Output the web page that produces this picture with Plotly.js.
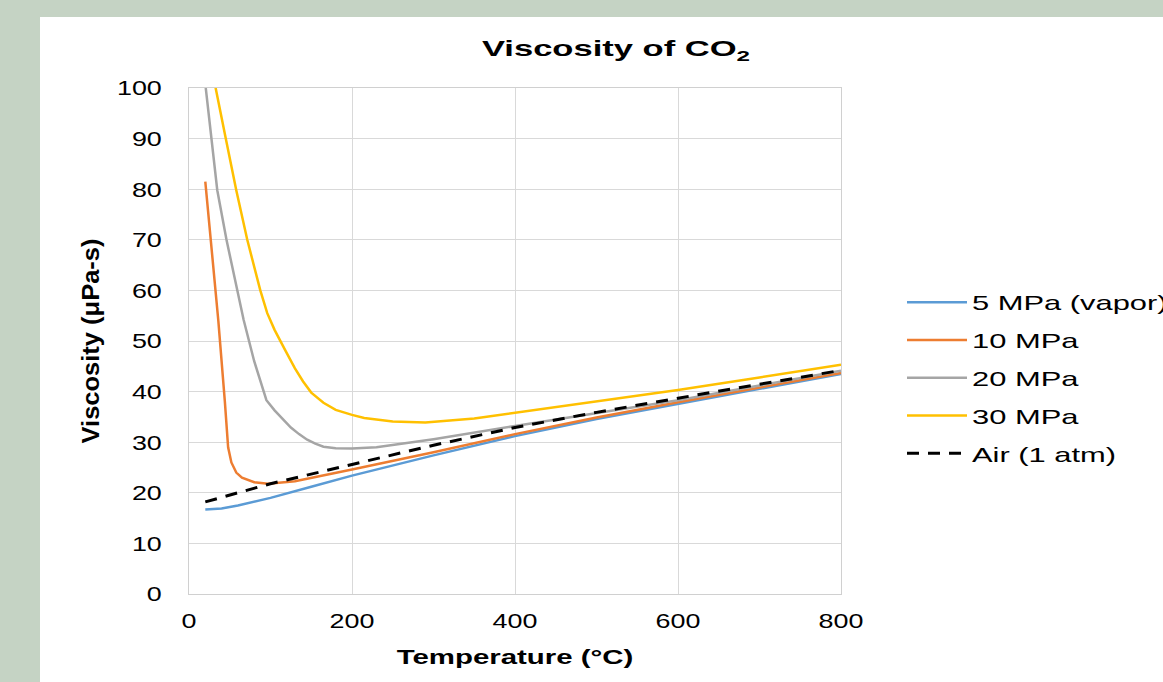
<!DOCTYPE html>
<html>
<head>
<meta charset="utf-8">
<script src="https://cdn.plot.ly/plotly-3.0.1.min.js"></script>
<style>
html,body{margin:0;padding:0;width:1163px;height:682px;overflow:hidden;background:#c5d3c4;}
#card{position:absolute;left:40px;top:17px;width:1123px;height:665px;background:#ffffff;}
#chart{position:absolute;left:0;top:0;width:1163px;height:682px;}
</style>
</head>
<body>
<div id="card"></div>
<div id="chart"></div>
<script>
// Temperature (°C) and viscosity (µPa-s) values
const t5 = [20, 40, 60, 100, 150, 200, 300, 400, 500, 600, 700, 800];
const v5 = [16.7, 16.9, 17.5, 19.0, 21.2, 23.4, 27.4, 31.2, 34.6, 37.6, 40.6, 43.5];

const t10 = [20, 27, 36, 44, 48, 52, 58, 65, 80, 97, 130, 200, 300, 400, 500, 600, 700, 800];
const v10 = [81.5, 70, 54, 38, 29, 26, 24, 23, 22.1, 21.8, 22.3, 24.6, 28.0, 31.6, 34.9, 37.9, 40.8, 43.7];

const t20 = [20, 27.6, 34.7, 46, 60, 67, 80, 95, 105, 115, 125, 135, 145, 155, 165, 180, 200, 230, 300, 400, 500, 600, 700, 800];
const v20 = [100.8, 89.7, 79.8, 70, 59.5, 54.2, 46, 38.3, 36.3, 34.5, 32.9, 31.6, 30.5, 29.7, 29.1, 28.8, 28.75, 29.0, 30.6, 33.2, 35.8, 38.3, 41.2, 44.1];

const t30 = [20, 32.7, 45.5, 58, 71.5, 87.5, 96, 105, 118, 130, 140, 150, 165, 180, 200, 215, 250, 290, 350, 400, 500, 600, 700, 800];
const v30 = [113, 100, 89.7, 79.8, 70, 60, 55.5, 52.2, 48.2, 44.6, 42.0, 39.8, 37.8, 36.4, 35.4, 34.8, 34.1, 33.9, 34.7, 35.8, 38.0, 40.3, 42.8, 45.3];

const tAir = [20, 100, 200, 300, 400, 500, 600, 700, 800];
const vAir = [18.2, 21.8, 25.6, 29.4, 32.9, 35.9, 38.7, 41.5, 44.2];

const names = ["5 MPa (vapor)", "10 MPa", "20 MPa", "30 MPa", "Air (1 atm)"];
const colors = ["#5b9bd5", "#ed7d31", "#a5a5a5", "#ffc000", "#000000"];

const xs = [t5, t10, t20, t30, tAir];
const ys = [v5, v10, v20, v30, vAir];

const traces = xs.map((x, i) => ({
  x: x, y: ys[i], name: names[i], type: "scatter", mode: "lines",
  legendgroup: "g" + i,
  line: {color: colors[i], width: i === 4 ? 3 : 2.5, dash: i === 4 ? "12px,9px" : "solid"},
  hoverinfo: "skip"
}));

const font = {family: "Liberation Sans, Arial, sans-serif", color: "#000000"};

const layout = {
  width: 1163, height: 682,
  paper_bgcolor: "rgba(0,0,0,0)",
  plot_bgcolor: "#ffffff",
  margin: {l: 189, r: 322, t: 88, b: 88},
  font: Object.assign({size: 21}, font),
  showlegend: true,
  title: {
    text: "<b>Viscosity of CO<sub>2</sub></b>",
    font: Object.assign({size: 22}, font),
    x: 616 / 1163, xref: "container", xanchor: "center",
    y: 1 - 48.5 / 682, yref: "container", yanchor: "middle"
  },
  xaxis: {
    range: [0, 800], tickvals: [0, 200, 400, 600, 800],
    showgrid: true, gridcolor: "#d9d9d9", gridwidth: 1,
    showline: true, linecolor: "#d0d0d0", linewidth: 1, mirror: true,
    zeroline: false, ticks: "", ticklabelstandoff: 8,
    tickfont: Object.assign({size: 21}, font),
    title: {text: "<b>Temperature (°C)</b>", font: Object.assign({size: 21}, font), standoff: 18}
  },
  yaxis: {
    range: [0, 100], dtick: 10,
    showgrid: true, gridcolor: "#d9d9d9", gridwidth: 1,
    showline: true, linecolor: "#d0d0d0", linewidth: 1, mirror: true,
    zeroline: false, ticks: "", ticklabelstandoff: 22,
    tickfont: Object.assign({size: 21}, font),
    title: {text: "<b>Viscosity (μPa-s)</b>", font: Object.assign({size: 23}, font), standoff: 20}
  },
  legend: {
    x: (902 - 189) / 652, xanchor: "left",
    y: (594 - 282) / 506, yanchor: "top",
    bgcolor: "rgba(0,0,0,0)",
    font: Object.assign({size: 21}, font),
    tracegroupgap: 7.5,
    itemwidth: 60,
    traceorder: "grouped"
  }
};

function stretch(sel, s) {
  document.querySelectorAll(sel).forEach(t => {
    const w = t.getComputedTextLength();
    if (w > 0) {
      t.setAttribute("textLength", (w * s).toFixed(2));
      t.setAttribute("lengthAdjust", "spacingAndGlyphs");
    }
  });
}
function fixLength(sel, len) {
  document.querySelectorAll(sel).forEach(t => {
    t.setAttribute("textLength", len);
    t.setAttribute("lengthAdjust", "spacingAndGlyphs");
  });
}

Plotly.newPlot("chart", traces, layout, {displayModeBar: false, staticPlot: true}).then(() => {
  document.querySelectorAll(".legend [clip-path]").forEach(e => e.removeAttribute("clip-path"));
  stretch(".gtitle", 1.57);
  stretch(".xtick text", 1.28);
  stretch(".ytick text", 1.28);
  stretch(".legendtext", 1.47);
  stretch(".xtitle", 1.4);
  fixLength(".ytitle", 205);
});
</script>
</body>
</html>
